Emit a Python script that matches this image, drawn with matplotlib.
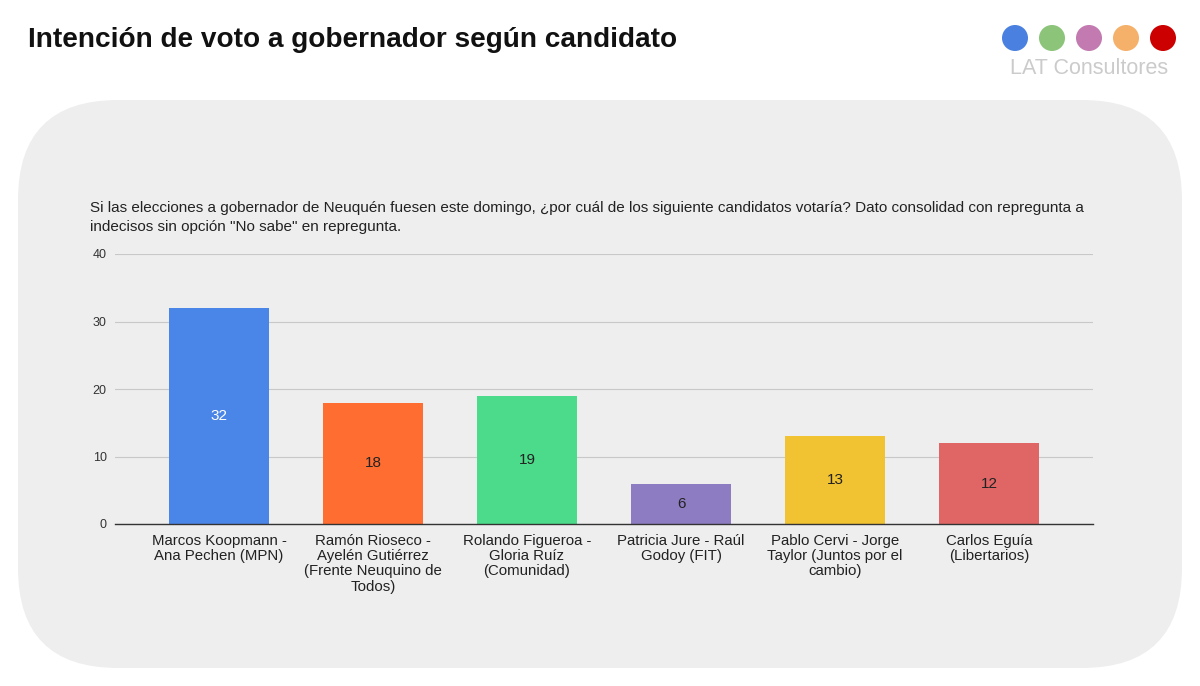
import matplotlib.pyplot as plt
from matplotlib.patches import FancyBboxPatch, Circle

# datos
candidatos = ['Marcos Koopmann -\nAna Pechen (MPN)',
              'Ramón Rioseco -\nAyelén Gutiérrez\n(Frente Neuquino de\nTodos)',
              'Rolando Figueroa -\nGloria Ruíz\n(Comunidad)',
              'Patricia Jure - Raúl\nGodoy (FIT)',
              'Pablo Cervi - Jorge\nTaylor (Juntos por el\ncambio)',
              'Carlos Eguía\n(Libertarios)']
votos = [32, 18, 19, 6, 13, 12]
colores = ['#4a86e8', '#ff6d31', '#4cdb8a', '#8e7cc3', '#f1c232', '#e06666']
colores_texto = ['white', '#222222', '#222222', '#222222', '#222222', '#222222']
y_ticks = [0, 10, 20, 30, 40]
logo_colores = ['#4a80e0', '#8cc47a', '#c27ab0', '#f5b06a', '#cc0000']

plt.rcParams['font.family'] = ['Liberation Sans', 'DejaVu Sans']

W, H = 1200, 686
fig = plt.figure(figsize=(W / 100, H / 100), dpi=100)
fig.patch.set_facecolor('white')

# fondo redondeado
bg = fig.add_axes([0, 0, 1, 1])
bg.set_xlim(0, W)
bg.set_ylim(H, 0)
bg.axis('off')
panel = FancyBboxPatch((18 + 100, 100 + 100), 1164 - 200, 568 - 200,
                       boxstyle='round,pad=100', fc='#eeeeee', ec='none')
bg.add_patch(panel)

# titulo
bg.text(28, 40, 'Intención de voto a gobernador según candidato',
        fontsize=20.2, fontweight='bold', va='center', ha='left', color='#111111')

# logo
for i, c in enumerate(logo_colores):
    bg.add_patch(Circle((1015 + i * 37, 38), 13, fc=c, ec='none'))
bg.text(1089, 69, 'LAT Consultores', fontsize=15.5, color='#cbcbcb',
        ha='center', va='center')

# subtitulo
bg.text(90, 208, 'Si las elecciones a gobernador de Neuquén fuesen este domingo, '
        '¿por cuál de los siguiente candidatos votaría? Dato consolidad con repregunta a',
        fontsize=11, color='#222222', ha='left', va='center')
bg.text(90, 227, 'indecisos sin opción "No sabe" en repregunta.',
        fontsize=11, color='#222222', ha='left', va='center')

# grafico
ax = fig.add_axes([115 / W, 1 - 524 / H, 978 / W, 270 / H])
ax.set_facecolor('none')
x = range(len(votos))
bars = ax.bar(x, votos, width=0.65, color=colores, zorder=3)
for b, v, tc in zip(bars, votos, colores_texto):
    ax.text(b.get_x() + b.get_width() / 2, v / 2, str(v), ha='center', va='center',
            fontsize=11, color=tc, zorder=4)

ax.set_xlim(-0.675, 5.675)
ax.set_ylim(0, 40)
ax.set_yticks(y_ticks)
ax.set_yticklabels([str(t) for t in y_ticks], fontsize=9, color='#333333')
ax.set_xticks(list(x))
ax.set_xticklabels(candidatos, fontsize=10.8, color='#222222', linespacing=1.12)
ax.tick_params(axis='both', length=0)
ax.tick_params(axis='y', pad=6)
ax.tick_params(axis='x', pad=7)
ax.grid(axis='y', color='#c8c8c8', linewidth=0.8, zorder=0)
for s in ['top', 'right', 'left']:
    ax.spines[s].set_visible(False)
ax.spines['bottom'].set_color('#333333')
ax.spines['bottom'].set_linewidth(1.0)
ax.spines['bottom'].set_zorder(5)

fig.savefig('out.png', dpi=100, facecolor='white')
